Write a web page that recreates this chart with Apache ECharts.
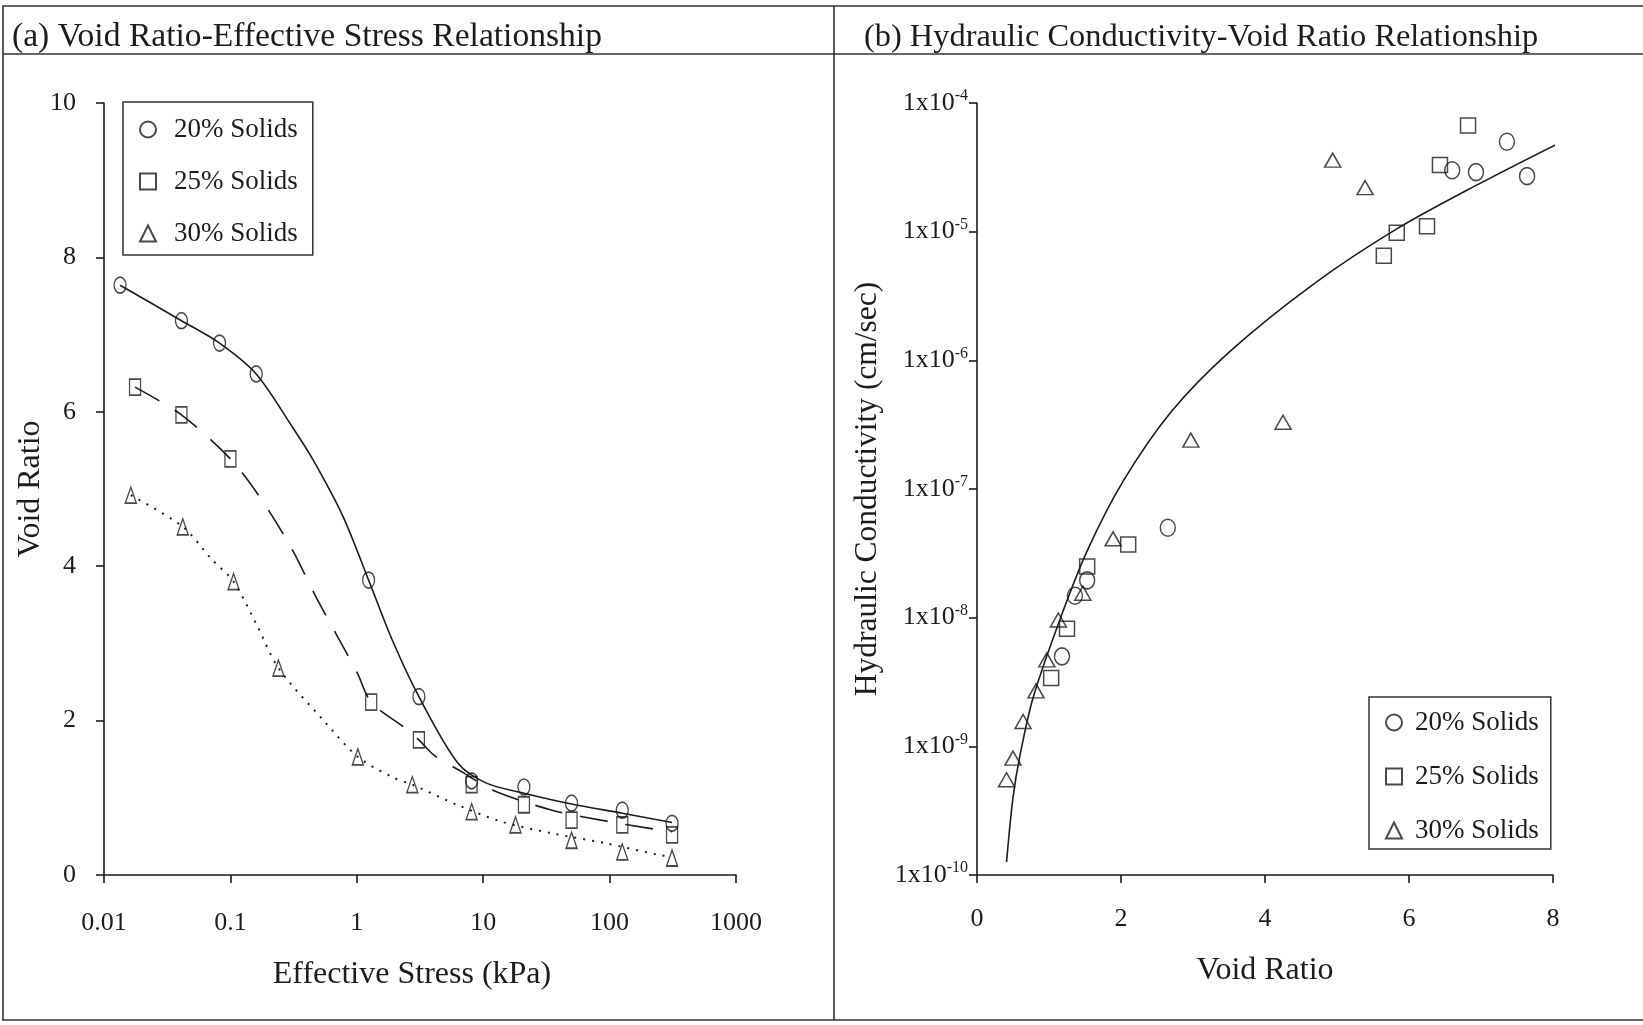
<!DOCTYPE html>
<html>
<head>
<meta charset="utf-8">
<script src="https://cdn.jsdelivr.net/npm/echarts@6/dist/echarts.min.js"></script>
<style>
  html, body { margin: 0; padding: 0; background: #fff; }
  #chart { width: 1643px; height: 1025px; }
</style>
</head>
<body>
<div id="chart"></div>
<script>
// (a) void ratio vs effective stress - measured points
const stress20 = [0.0134, 0.041, 0.082, 0.16, 1.24, 3.1, 8.1, 21, 50, 126, 312];
const void20 = [7.64, 7.18, 6.89, 6.49, 3.82, 2.31, 1.22, 1.14, 0.93, 0.84, 0.67];
const stress25 = [0.0176, 0.041, 0.1, 1.3, 3.1, 8.1, 21, 50, 126, 312];
const void25 = [6.32, 5.96, 5.39, 2.24, 1.75, 1.17, 0.91, 0.71, 0.65, 0.52];
const stress30 = [0.0163, 0.042, 0.106, 0.24, 1.02, 2.75, 8.1, 18, 50, 126, 312];
const void30 = [4.92, 4.51, 3.80, 2.68, 1.53, 1.17, 0.82, 0.65, 0.45, 0.30, 0.22];

// (a) fitted curves
const fitStress20 = [0.0134, 0.041, 0.082, 0.16, 0.31, 0.45, 0.78, 1.24, 1.9, 3.1, 6.3, 10.6, 21, 50, 126, 312];
const fitVoid20 = [7.64, 7.18, 6.89, 6.49, 5.80, 5.38, 4.64, 3.82, 3.05, 2.31, 1.45, 1.19, 1.06, 0.92, 0.80, 0.68];
const fitStress25 = [0.0176, 0.041, 0.1, 0.17, 0.30, 0.49, 1.0, 1.3, 2.43, 3.1, 4.1, 6.9, 11.8, 35, 100, 180, 312];
const fitVoid25 = [6.32, 5.96, 5.39, 4.90, 4.25, 3.56, 2.63, 2.24, 1.90, 1.75, 1.55, 1.33, 1.10, 0.84, 0.69, 0.62, 0.56];
const fitStress30 = [0.0163, 0.042, 0.072, 0.106, 0.165, 0.24, 0.54, 1.02, 1.9, 2.75, 6.2, 14, 35, 94, 245, 300];
const fitVoid30 = [4.92, 4.51, 4.08, 3.80, 3.21, 2.68, 2.01, 1.53, 1.27, 1.17, 0.91, 0.69, 0.54, 0.41, 0.26, 0.24];

// (b) hydraulic conductivity vs void ratio - measured points
const kVoid20 = [2.65, 1.53, 1.36, 1.18, 6.60, 6.93, 7.36, 7.64];
const kCond20 = [5.0e-8, 1.95e-8, 1.48e-8, 5.0e-9, 3.0e-5, 2.9e-5, 5.0e-5, 2.7e-5];
const kVoid25 = [2.10, 1.53, 1.25, 1.03, 6.82, 6.43, 6.25, 5.83, 5.65];
const kCond25 = [3.7e-8, 2.5e-8, 8.2e-9, 3.4e-9, 6.7e-5, 3.3e-5, 1.1e-5, 9.8e-6, 6.5e-6];
const kVoid30 = [0.41, 0.50, 0.64, 0.82, 0.97, 1.13, 1.47, 1.89, 2.97, 4.25, 4.94, 5.39];
const kCond30 = [5.5e-10, 8.1e-10, 1.56e-9, 2.7e-9, 4.7e-9, 9.6e-9, 1.55e-8, 4.1e-8, 2.4e-7, 3.3e-7, 3.6e-5, 2.2e-5];

// (b) fitted curve
const fitVoidK = [0.41, 0.50, 0.60, 0.78, 1.15, 1.53, 2.03, 2.7, 3.51, 4.67, 5.83, 6.94, 8.12];
const fitCondK = [1.26e-10, 4.0e-10, 8.7e-10, 2.4e-9, 9.6e-9, 3.3e-8, 1.15e-7, 4.0e-7, 1.17e-6, 3.9e-6, 1.05e-5, 2.3e-5, 5.0e-5];

const seriesNames = ['20% Solids', '25% Solids', '30% Solids'];

const zip = (xs, ys) => xs.map((x, i) => [x, ys[i]]);

const FONT = '"Liberation Serif", "DejaVu Serif", serif';
const INK = '#1c1c1c';

const axisCommon = {
    axisLine: { show: true, lineStyle: { color: INK, width: 1.6 } },
    axisTick: { show: true, inside: false, length: 8, lineStyle: { color: INK, width: 1.6 } },
    splitLine: { show: false },
    nameTextStyle: { fontFamily: FONT, fontSize: 32, color: INK },
    axisLabel: { fontFamily: FONT, fontSize: 26, color: INK }
};

const markerStyle = { color: 'rgba(255,255,255,0)', borderColor: INK, borderWidth: 1.5 };

const legendText = (padLeft) => ({
    fontFamily: FONT, fontSize: 27, color: INK,
    rich: { t: { fontFamily: FONT, fontSize: 27, color: INK, padding: [0, 0, 0, padLeft] } }
});

const myChart = echarts.init(document.getElementById('chart'), null, { renderer: 'canvas' });

const option = {
    backgroundColor: '#fff',
    animation: false,
    title: [
        { text: '(a) Void Ratio-Effective Stress Relationship', left: 7, top: 15,
          textStyle: { fontFamily: FONT, fontSize: 33.6, fontWeight: 'normal', color: INK } },
        { text: '(b) Hydraulic Conductivity-Void Ratio Relationship', left: 859, top: 16,
          textStyle: { fontFamily: FONT, fontSize: 32.4, fontWeight: 'normal', color: INK } }
    ],
    graphic: [
        { type: 'rect', shape: { x: 3, y: 6, width: 1660, height: 1014 },
          style: { fill: null, stroke: '#333', lineWidth: 1.6 }, silent: true },
        { type: 'line', shape: { x1: 3, y1: 54, x2: 1643, y2: 54 },
          style: { stroke: '#333', lineWidth: 1.6 }, silent: true },
        { type: 'line', shape: { x1: 834, y1: 6, x2: 834, y2: 1020 },
          style: { stroke: '#333', lineWidth: 1.6 }, silent: true }
    ],
    legend: [
        {
            data: seriesNames, orient: 'vertical', left: 123, top: 102,
            itemWidth: 16, itemHeight: 16, itemGap: 25,
            padding: [14, 15, 8, 16],
            borderColor: '#333', borderWidth: 1.5,
            formatter: (name) => '{t|' + name + '}',
            textStyle: legendText(13),
            selectedMode: false
        },
        {
            data: seriesNames, orient: 'vertical', left: 1369, top: 697,
            itemWidth: 16, itemHeight: 16, itemGap: 27,
            padding: [12, 12, 5, 16],
            borderColor: '#333', borderWidth: 1.5,
            formatter: (name) => '{t|' + name + '}',
            textStyle: legendText(8),
            selectedMode: false
        }
    ],
    grid: [
        { left: 104, top: 103, width: 632, height: 772 },
        { left: 977, top: 103, width: 576, height: 772 }
    ],
    xAxis: [
        Object.assign({}, axisCommon, {
            gridIndex: 0, type: 'log', logBase: 10, min: 0.01, max: 1000,
            name: 'Effective Stress (kPa)', nameLocation: 'middle', nameGap: 84,
            nameTextStyle: Object.assign({}, axisCommon.nameTextStyle, { padding: [0, 16, 0, 0] }),
            axisLabel: Object.assign({}, axisCommon.axisLabel, {
                margin: 35,
                formatter: (v) => {
                    const e = Math.round(Math.log10(v));
                    return e < 0 ? Math.pow(10, e).toFixed(-e) : String(Math.pow(10, e));
                }
            })
        }),
        Object.assign({}, axisCommon, {
            gridIndex: 1, type: 'value', min: 0, max: 8, interval: 2,
            name: 'Void Ratio', nameLocation: 'middle', nameGap: 80,
            axisLabel: Object.assign({}, axisCommon.axisLabel, { margin: 31 })
        })
    ],
    yAxis: [
        Object.assign({}, axisCommon, {
            gridIndex: 0, type: 'value', min: 0, max: 10, interval: 2,
            name: 'Void Ratio', nameLocation: 'middle', nameGap: 52,
            axisLabel: Object.assign({}, axisCommon.axisLabel, { margin: 28 })
        }),
        Object.assign({}, axisCommon, {
            gridIndex: 1, type: 'log', logBase: 10, min: 1e-10, max: 1e-4,
            name: 'Hydraulic Conductivity (cm/sec)', nameLocation: 'middle', nameGap: 93,
            nameTextStyle: Object.assign({}, axisCommon.nameTextStyle, { fontSize: 31.5 }),
            axisLabel: {
                margin: 9,
                formatter: (v) => '{a|1x10}{b|' + Math.round(Math.log10(v)) + '}',
                rich: {
                    a: { fontFamily: FONT, fontSize: 26, color: INK, lineHeight: 30 },
                    b: { fontFamily: FONT, fontSize: 16, color: INK, verticalAlign: 'top', lineHeight: 30 }
                }
            }
        })
    ],
    series: [
        { name: 'fit20', type: 'line', xAxisIndex: 0, yAxisIndex: 0, smooth: 0.3,
          showSymbol: false, data: zip(fitStress20, fitVoid20),
          lineStyle: { color: INK, width: 1.6, type: 'solid' } },
        { name: 'fit25', type: 'line', xAxisIndex: 0, yAxisIndex: 0, smooth: 0.3,
          showSymbol: false, data: zip(fitStress25, fitVoid25),
          lineStyle: { color: INK, width: 1.6, type: [28, 18] } },
        { name: 'fit30', type: 'line', xAxisIndex: 0, yAxisIndex: 0, smooth: 0.3,
          showSymbol: false, data: zip(fitStress30, fitVoid30),
          lineStyle: { color: INK, width: 2, type: [2, 7] } },
        { name: seriesNames[0], type: 'scatter', xAxisIndex: 0, yAxisIndex: 0, symbol: 'circle',
          symbolSize: [12, 16], data: zip(stress20, void20), itemStyle: markerStyle, z: 3 },
        { name: seriesNames[1], type: 'scatter', xAxisIndex: 0, yAxisIndex: 0, symbol: 'rect',
          symbolSize: [11, 16], data: zip(stress25, void25), itemStyle: markerStyle, z: 3 },
        { name: seriesNames[2], type: 'scatter', xAxisIndex: 0, yAxisIndex: 0, symbol: 'triangle',
          symbolSize: [11, 16], data: zip(stress30, void30), itemStyle: markerStyle, z: 3 },

        { name: 'fitK', type: 'line', xAxisIndex: 1, yAxisIndex: 1, smooth: 0.3,
          showSymbol: false, data: zip(fitVoidK, fitCondK),
          lineStyle: { color: INK, width: 1.6 } },
        { name: seriesNames[0], type: 'scatter', xAxisIndex: 1, yAxisIndex: 1, symbol: 'circle',
          symbolSize: [15, 17], data: zip(kVoid20, kCond20), itemStyle: markerStyle, z: 3 },
        { name: seriesNames[1], type: 'scatter', xAxisIndex: 1, yAxisIndex: 1, symbol: 'rect',
          symbolSize: 15, data: zip(kVoid25, kCond25), itemStyle: markerStyle, z: 3 },
        { name: seriesNames[2], type: 'scatter', xAxisIndex: 1, yAxisIndex: 1, symbol: 'triangle',
          symbolSize: [16, 14], data: zip(kVoid30, kCond30), itemStyle: markerStyle, z: 3 }
    ]
};

myChart.setOption(option);
</script>
</body>
</html>
